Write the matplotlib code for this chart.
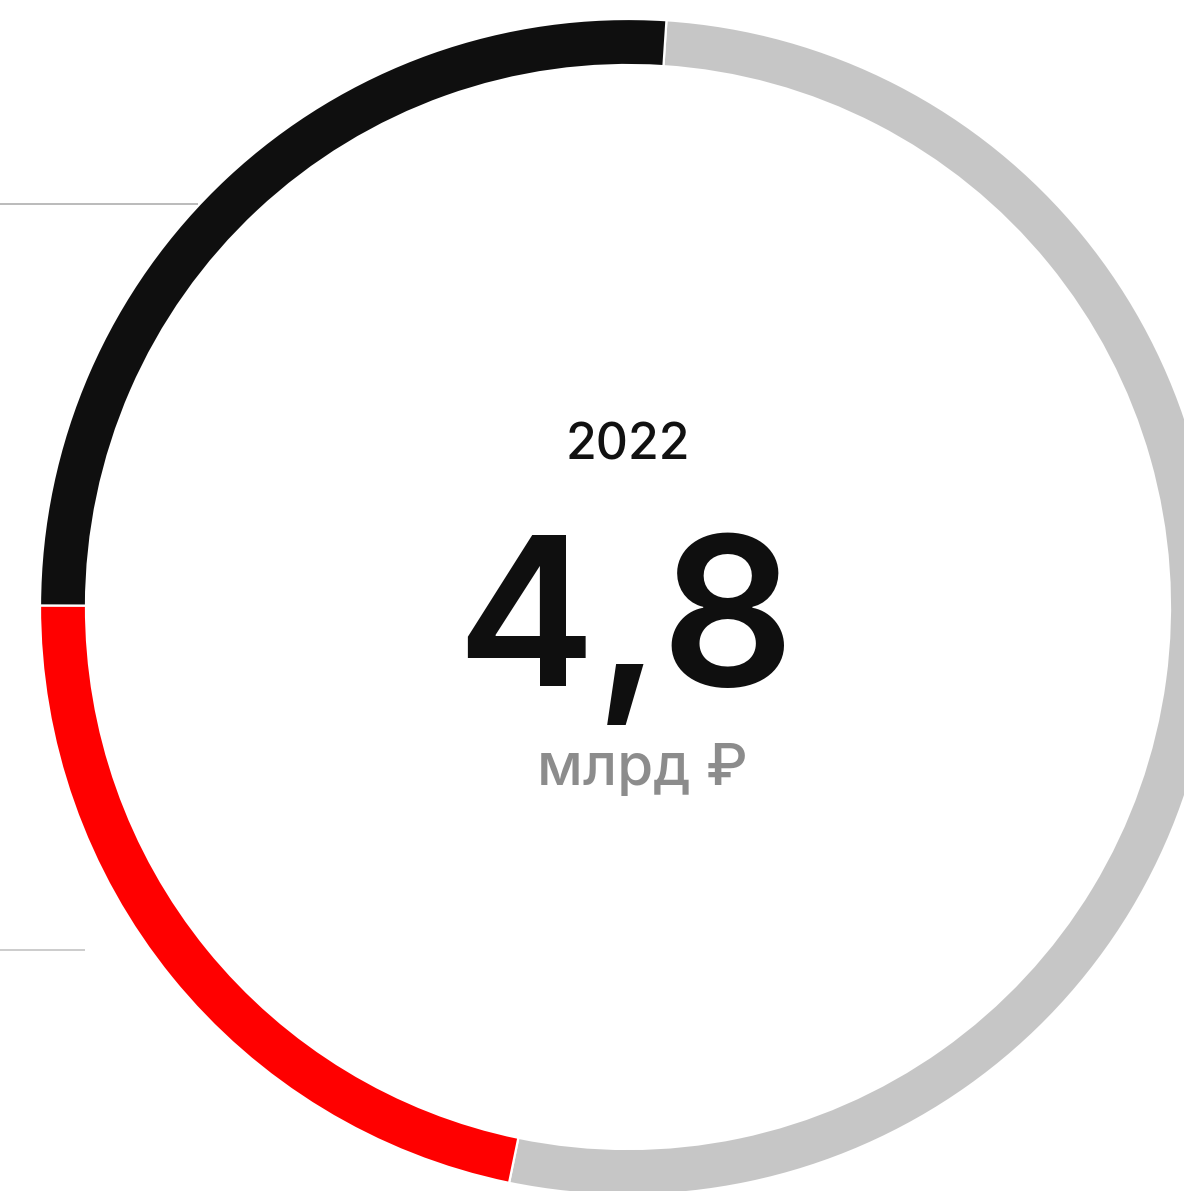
import matplotlib
matplotlib.use("Agg")
import matplotlib.pyplot as plt

# shares of the ring (clockwise from top): grey, red, black
labels = ["grey", "red", "black"]
values = [52.2, 21.8, 26.0]
colors = ["#c6c6c6", "#ff0000", "#0f0f0f"]

year = "2022"
total = "4,8"
unit = "млрд ₽"

W, H = 1184, 1191
plt.rcParams['font.family'] = ['Inter', 'DejaVu Sans']

fig = plt.figure(figsize=(W / 100, H / 100), dpi=100)
ax = fig.add_axes([0, 0, 1, 1])

cx, cy = 628, H - 607
ax.pie(values, colors=colors, startangle=86.25, counterclock=False,
       center=(cx, cy), radius=588, frame=True,
       wedgeprops={'width': 46, 'edgecolor': 'white', 'linewidth': 1.6})

# leader lines coming in from the left
ax.plot([0, 198], [H - 203.5, H - 203.5], color="#a8a8a8", lw=1.1, solid_capstyle='butt')
ax.plot([0, 85], [H - 950, H - 950], color="#c8c8c8", lw=1.3, solid_capstyle='butt')

ax.text(cx, H - 460, year, ha='center', va='baseline', fontsize=36,
        fontweight='medium', color="#111111")
ax.text(cx - 3, H - 686, total, ha='center', va='baseline', fontsize=150,
        fontweight='semibold', color="#0f0f0f")
ax.text(cx + 14, H - 785, unit, ha='center', va='baseline', fontsize=42,
        fontweight='medium', color="#8c8c8c")

ax.set_xlim(0, W)
ax.set_ylim(0, H)
ax.set_aspect('auto')
ax.axis('off')

fig.savefig("out.png", dpi=100, facecolor="white")
